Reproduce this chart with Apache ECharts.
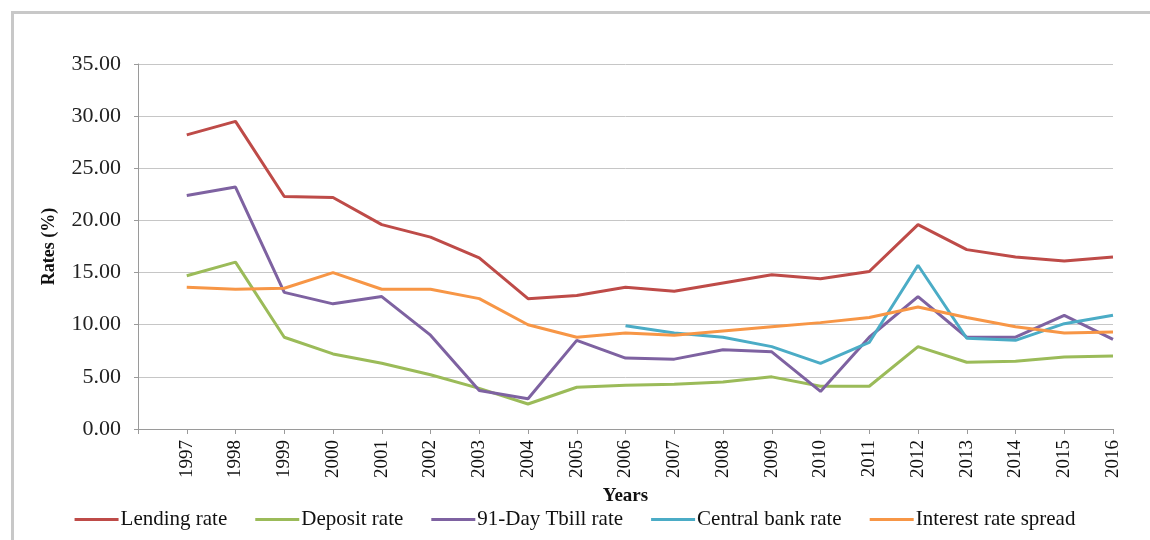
<!DOCTYPE html>
<html>
<head>
<meta charset="utf-8">
<title>Rates (%) 1997–2016</title>
<script src="https://cdn.jsdelivr.net/npm/echarts@6/dist/echarts.min.js"></script>
<style>
  html, body { margin: 0; padding: 0; background: #fff; }
  #chart { width: 1150px; height: 540px; }
</style>
</head>
<body>
<div id="chart"></div>
<script>
// Years on the horizontal axis
const years = [1997, 1998, 1999, 2000, 2001, 2002, 2003, 2004, 2005, 2006,
               2007, 2008, 2009, 2010, 2011, 2012, 2013, 2014, 2015, 2016];

// Rates in percent, one value per year (null where no figure exists)
const lendingRate  = [28.2, 29.5, 22.3, 22.2, 19.6, 18.4, 16.4, 12.5, 12.8, 13.6,
                      13.2, 14.0, 14.8, 14.4, 15.1, 19.6, 17.2, 16.5, 16.1, 16.5];
const depositRate  = [14.7, 16.0, 8.8, 7.2, 6.3, 5.2, 3.9, 2.4, 4.0, 4.2,
                      4.3, 4.5, 5.0, 4.1, 4.1, 7.9, 6.4, 6.5, 6.9, 7.0];
const tbillRate    = [22.4, 23.2, 13.1, 12.0, 12.7, 9.0, 3.7, 2.9, 8.5, 6.8,
                      6.7, 7.6, 7.4, 3.6, 8.8, 12.7, 8.8, 8.8, 10.9, 8.6];
const centralRate  = [null, null, null, null, null, null, null, null, null, 9.9,
                      9.2, 8.8, 7.9, 6.3, 8.3, 15.7, 8.7, 8.5, 10.1, 10.9];
const rateSpread   = [13.6, 13.4, 13.5, 15.0, 13.4, 13.4, 12.5, 10.0, 8.8, 9.2,
                      9.0, 9.4, 9.8, 10.2, 10.7, 11.7, 10.7, 9.8, 9.2, 9.3];

const seriesNames = ['Lending rate', 'Deposit rate', '91-Day Tbill rate',
                     'Central bank rate', 'Interest rate spread'];
const seriesValues = [lendingRate, depositRate, tbillRate, centralRate, rateSpread];
const seriesColors = ['#BE4B48', '#9BBB59', '#7E62A1', '#4BACC6', '#F79646'];

// Y axis ticks
const yMin = 0, yMax = 35, yStep = 5;

const serif = '"Liberation Serif", "Times New Roman", serif';

function pairs(values) {
  const out = [];
  values.forEach((v, i) => { if (v !== null) out.push([years[i], v]); });
  return out;
}

const chart = echarts.init(document.getElementById('chart'), null, { renderer: 'canvas' });

chart.setOption({
  animation: false,
  backgroundColor: '#ffffff',
  color: seriesColors,
  graphic: [{
    type: 'rect',
    left: 10, top: 10,
    shape: { width: 1200, height: 600 },
    style: { fill: 'none', stroke: '#c8c8c8', lineWidth: 3 },
    silent: true
  }],
  grid: { left: 138, right: 37, top: 64, bottom: 111, containLabel: false },
  legend: {
    bottom: 5,
    left: 'center',
    icon: 'rect',
    itemWidth: 44,
    itemHeight: 3,
    itemGap: 28,
    textStyle: { fontFamily: serif, fontSize: 21, color: '#111', padding: [0, 0, 0, -3] },
    data: seriesNames
  },
  xAxis: {
    type: 'value',
    min: years[0] - 1,
    max: years[years.length - 1],
    interval: 1,
    name: 'Years',
    nameLocation: 'middle',
    nameGap: 58,
    nameTextStyle: { fontFamily: serif, fontSize: 19, fontWeight: 'bold', color: '#111' },
    axisLine: { show: true, lineStyle: { color: '#9a9a9a', width: 1 } },
    axisTick: { show: true, length: 5, lineStyle: { color: '#9a9a9a' } },
    splitLine: { show: false },
    axisLabel: {
      rotate: 90,
      margin: 11,
      fontFamily: serif,
      fontSize: 19,
      color: '#111',
      formatter: v => (v >= years[0] ? String(v) : '')
    }
  },
  yAxis: {
    type: 'value',
    min: yMin,
    max: yMax,
    interval: yStep,
    name: 'Rates (%)',
    nameLocation: 'middle',
    nameGap: 80,
    nameTextStyle: { fontFamily: serif, fontSize: 18, fontWeight: 'bold', color: '#111' },
    axisLine: { show: true, lineStyle: { color: '#9a9a9a', width: 1 } },
    axisTick: { show: true, length: 4, lineStyle: { color: '#9a9a9a' } },
    splitLine: { show: true, lineStyle: { color: '#c6c6c6', width: 1 } },
    axisLabel: {
      margin: 17,
      fontFamily: serif,
      fontSize: 22,
      color: '#222',
      formatter: v => v.toFixed(2)
    }
  },
  series: seriesNames.map((name, i) => ({
    name: name,
    type: 'line',
    data: pairs(seriesValues[i]),
    showSymbol: false,
    symbol: 'none',
    lineStyle: { width: 3, color: seriesColors[i] },
    itemStyle: { color: seriesColors[i] },
    z: 2 + i
  }))
});
</script>
</body>
</html>
